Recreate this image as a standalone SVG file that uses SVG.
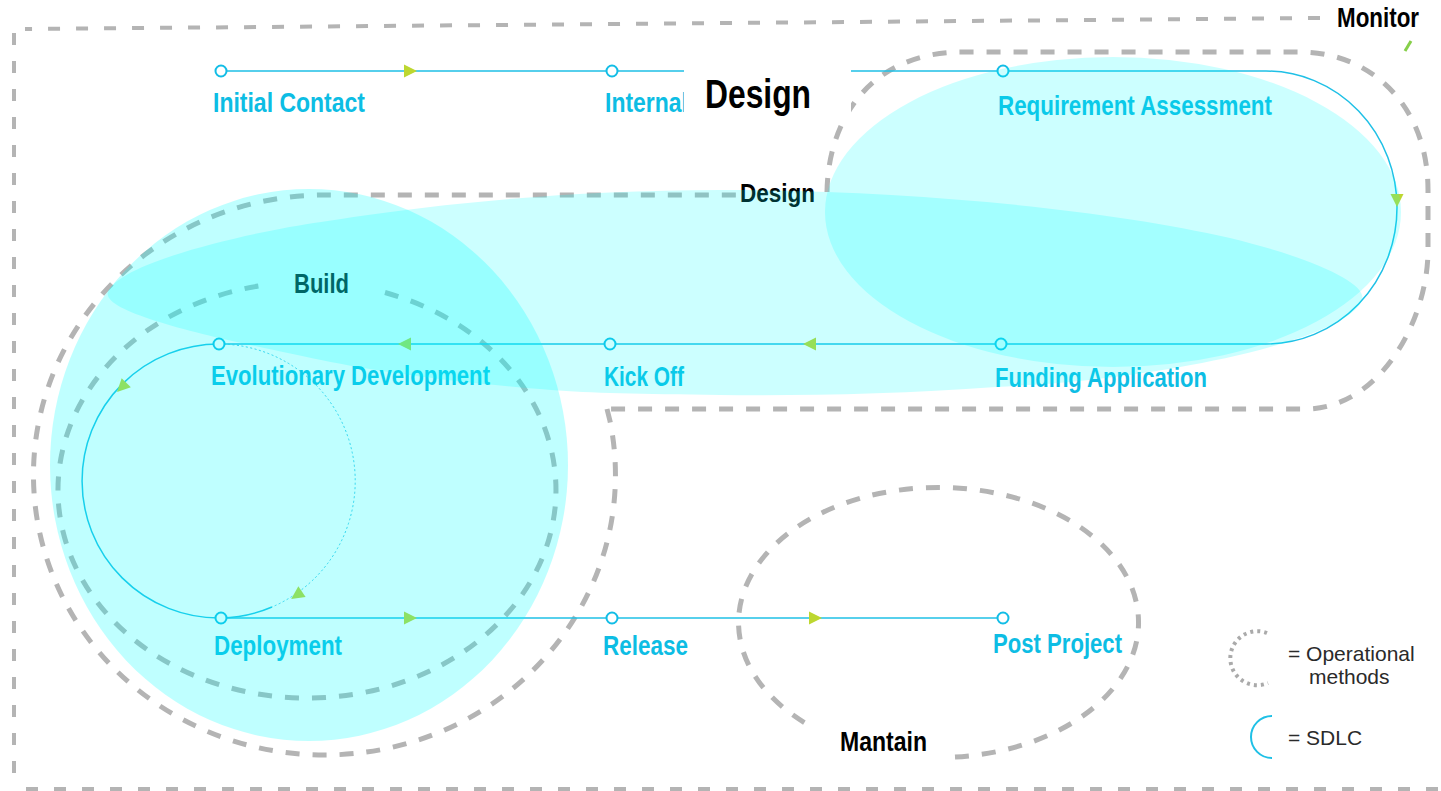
<svg xmlns="http://www.w3.org/2000/svg" width="1441" height="791" viewBox="0 0 1441 791">
<defs>
<style>
.frame{fill:none;stroke:#b4b4b4;stroke-width:4;stroke-dasharray:12 16}
.op{fill:none;stroke:#b4b4b4;stroke-width:5;stroke-dasharray:14 13}
.sdlc{fill:none;stroke:#1fc0e6;stroke-width:1.5}
.dot{fill:none;stroke:#3cc8ea;stroke-width:1;stroke-dasharray:2 2.5}
.node{fill:#fff;stroke:#12bde6;stroke-width:2}
.lbl{font-family:'Liberation Sans Narrow','Liberation Sans',Arial,sans-serif;font-weight:700;font-size:28px;fill:#0dbde4}
.blk{font-family:'Liberation Sans Narrow','Liberation Sans',Arial,sans-serif;font-weight:700;font-size:28px;fill:#000}
.leg{font-family:'Liberation Sans',Arial,sans-serif;font-size:21px;fill:#2a2a2a}
.zone{fill:#00ffff}
</style>
<path id="arr" d="M-6,-6.5 L7,0 L-6,6.5 Z" fill="#bdd730"/>
</defs>
<rect x="0" y="0" width="1441" height="791" fill="#fff"/>

<g id="frame">
<path class="frame" d="M1320,18 L25,29 M14,33 V787 M26,789 H1441"/>
<path d="M1405,51 L1411,41" stroke="#86cf4a" stroke-width="3" fill="none"/>
</g>

<g id="operational-loops">
<path id="loop-design-build" class="op" d="M607,409 L610,421 A291,280 0 1 1 325,195 H738 M827,192 C828,120 870,52 963,52 H1300 C1370,52 1428,105 1428,190 V250 C1428,320 1380,409 1305,409 H607"/>
<path id="loop-build" class="op" d="M385,292.5 A249,208 0 1 1 265,285"/>
<path id="loop-mantain" class="op" d="M955,757 A200,135 0 1 0 812,727"/>
</g>

<g id="loop-labels">
<text class="blk" x="294" y="293" textLength="55" lengthAdjust="spacingAndGlyphs">Build</text>
<text class="blk" x="740" y="202" style="font-size:25px" textLength="75" lengthAdjust="spacingAndGlyphs">Design</text>
</g>

<g id="connectors">
<path class="sdlc" d="M221,71 H1266 A131,136.5 0 0 1 1266,344 H219"/>
<path class="sdlc" d="M219,344 A137,137 0 0 0 219,618"/>
<path class="dot" d="M219,344 A137,137 0 0 1 272,607"/>
<path class="sdlc" d="M272,607 A137,137 0 0 1 221,618"/>
<path class="sdlc" d="M221,618 H1003"/>
<use href="#arr" transform="translate(410,71)"/>
<use href="#arr" transform="translate(1397,200) rotate(90)"/>
<use href="#arr" transform="translate(810,344) rotate(180)"/>
<use href="#arr" transform="translate(405,344) rotate(180)"/>
<use href="#arr" transform="translate(122,387) rotate(135)"/>
<use href="#arr" transform="translate(297,595) rotate(146)"/>
<use href="#arr" transform="translate(410,618)"/>
<use href="#arr" transform="translate(815,618)"/>
</g>

<g id="node-initial-contact"><circle class="node" cx="221" cy="71" r="5.5"/><text class="lbl" x="213" y="112" textLength="152" lengthAdjust="spacingAndGlyphs">Initial Contact</text></g>
<g id="node-internal"><circle class="node" cx="612" cy="71" r="5.5"/><text class="lbl" x="605" y="112" textLength="83" lengthAdjust="spacingAndGlyphs">Internal</text></g>
<g id="node-requirement-assessment"><circle class="node" cx="1003" cy="71" r="5.5"/><text class="lbl" x="998" y="115" textLength="274" lengthAdjust="spacingAndGlyphs">Requirement Assessment</text></g>
<g id="node-funding-application"><circle class="node" cx="1001" cy="344" r="5.5"/><text class="lbl" x="995" y="387" textLength="212" lengthAdjust="spacingAndGlyphs">Funding Application</text></g>
<g id="node-kick-off"><circle class="node" cx="610" cy="344" r="5.5"/><text class="lbl" x="604" y="386" textLength="80" lengthAdjust="spacingAndGlyphs">Kick Off</text></g>
<g id="node-evolutionary-development"><circle class="node" cx="219" cy="344" r="5.5"/><text class="lbl" x="211" y="385" textLength="279" lengthAdjust="spacingAndGlyphs">Evolutionary Development</text></g>
<g id="node-deployment"><circle class="node" cx="221" cy="618" r="5.5"/><text class="lbl" x="214" y="655" textLength="128" lengthAdjust="spacingAndGlyphs">Deployment</text></g>
<g id="node-release"><circle class="node" cx="612" cy="618" r="5.5"/><text class="lbl" x="603" y="655" textLength="85" lengthAdjust="spacingAndGlyphs">Release</text></g>
<g id="node-post-project"><circle class="node" cx="1003" cy="618" r="5.5"/><text class="lbl" x="993" y="653" textLength="129" lengthAdjust="spacingAndGlyphs">Post Project</text></g>

<g id="zones">
<ellipse class="zone" cx="309" cy="465" rx="259" ry="276" opacity="0.25"/>
<ellipse class="zone" cx="1113" cy="212" rx="288" ry="155" opacity="0.2"/>
<path class="zone" opacity="0.2" d="M108,292 C120,262 250,232 321,222 C420,206 560,190 720,190 C900,190 1100,208 1230,238 C1320,260 1368,285 1362,300 C1350,330 1250,355 1180,367 C1100,381 1050,384 996,387 C900,394 800,396 720,395 C640,394 590,393 551,390 C450,382 380,372 321,360 C240,343 100,315 108,292 Z"/>
</g>

<g id="title">
<rect x="684" y="57" width="167" height="68" fill="#fff"/>
<text class="blk" x="705" y="108" style="font-size:40px" textLength="106" lengthAdjust="spacingAndGlyphs">Design</text>
</g>

<g id="label-monitor"><text class="blk" x="1337" y="27" textLength="82" lengthAdjust="spacingAndGlyphs">Monitor</text></g>
<g id="label-mantain"><text class="blk" x="840" y="751" textLength="87" lengthAdjust="spacingAndGlyphs">Mantain</text></g>

<g id="legend">
<path d="M1267,633 A27,27 0 1 0 1268,683" fill="none" stroke="#aaa" stroke-width="4" stroke-dasharray="3 4"/>
<text class="leg" x="1288" y="661">= Operational</text>
<text class="leg" x="1309" y="684">methods</text>
<path d="M1272,716 A21,21 0 0 0 1272,758" fill="none" stroke="#1fc0e6" stroke-width="2"/>
<text class="leg" x="1288" y="745">= SDLC</text>
</g>
</svg>
